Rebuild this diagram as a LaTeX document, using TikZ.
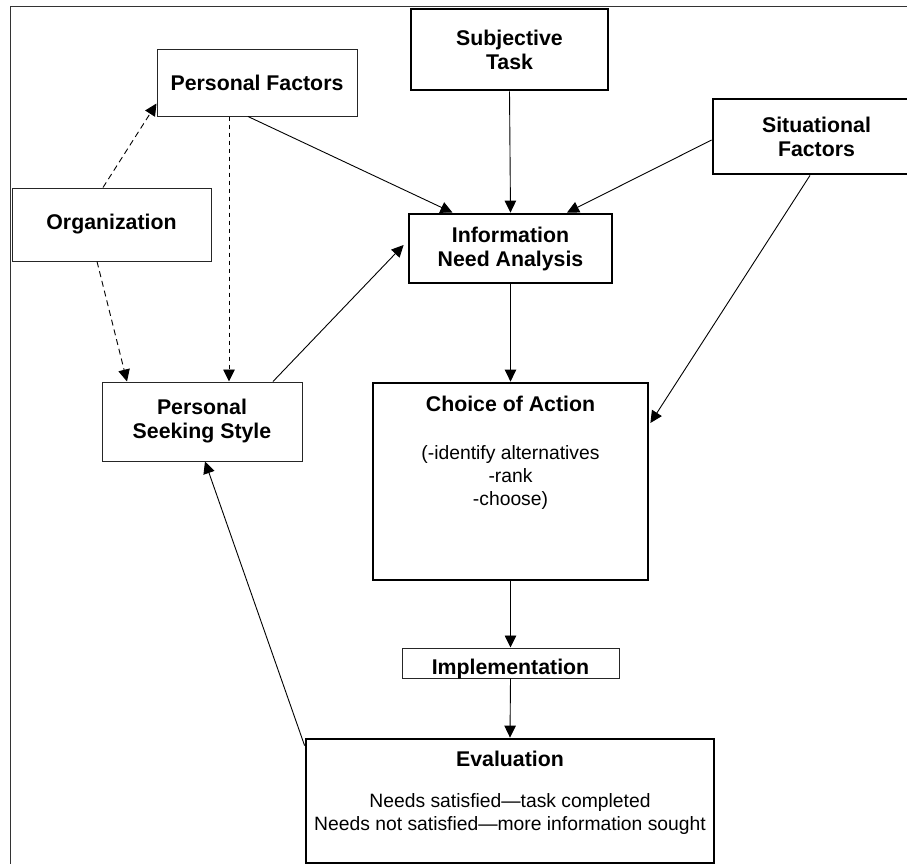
\documentclass[tikz,border=0pt]{standalone}
\usepackage{fontspec}
\setmainfont{Liberation Sans}
\usetikzlibrary{arrows.meta}
\begin{document}
\begin{tikzpicture}[x=1pt,y=-1pt,
  thinbox/.style={draw=black!85,line width=1pt,inner sep=0pt,minimum width=#1},
  thickbox/.style={draw,line width=2.8pt,inner sep=0pt,minimum width=#1},
  lbl/.style={font=\fontsize{21.3}{24}\selectfont\bfseries,align=center},
  body/.style={font=\fontsize{19.3}{23}\selectfont,align=center},
  conn/.style={line width=0.9pt,-{Triangle[length=12pt,width=11.5pt]}},
  dconn/.style={conn,dash pattern=on 6pt off 4pt},
  sconn/.style={conn,dash pattern=on 4.5pt off 3.5pt}]
\useasboundingbox (0,0) rectangle (907,863);
\fill[white] (0,0) rectangle (907,863);
% outer frame
\draw[line width=0.9pt,black!80] (10,870) |- (920,6);

% boxes
\node[thinbox=200,minimum height=67,lbl] (pf) at (257,82.5) {Personal Factors};
\node[thinbox=199,minimum height=73,lbl] (org) at (111.5,224.5) {Organization};
\node[thickbox=197,minimum height=81,lbl] (st) at (509.5,49.5) {Subjective\\Task};
\node[thickbox=207,minimum height=75,lbl] (sf) at (816.5,136.5) {Situational\\Factors};
\node[thickbox=203,minimum height=69,lbl] (ina) at (510.5,248.5) {Information\\Need Analysis};
\node[thinbox=200,minimum height=79,lbl] (pss) at (202,421.5) {Personal\\Seeking Style};
\node[thickbox=275,minimum height=197] (coa) at (510.5,481.5) {};
\node[lbl] (coatitle) at (510.5,404) {Choice of Action};
\node[body] (coabody) at (510.5,477) {(-identify alternatives\\-rank\\-choose)};
\node[thinbox=217,minimum height=30] (impl) at (510.5,663) {};
\node[lbl,anchor=base] (impltxt) at (510.5,674) {Implementation};
\node[thickbox=408,minimum height=124] (ev) at (510,801) {};
\node[lbl] (evtitle) at (510,759) {Evaluation};
\node[body] (evbody) at (510,814) {Needs satisfied---task completed\\Needs not satisfied---more information sought};

% influences
\draw[dconn] ([xshift=-8.5]org.north) -- ([yshift=13]pf.south west);
\draw[dconn] ([xshift=-14.5]org.south) -- ([xshift=-75]pss.north);
\draw[sconn] ([xshift=-28]pf.south) -- ([xshift=27]pss.north);
\draw[conn] ([xshift=-9]pf.south) -- ([xshift=-58]ina.north);
\draw[conn] ([xshift=71]pss.north) -- ([yshift=3.5,xshift=-4]ina.west);
\draw[conn] (st.south) -- (ina.north);
\draw[conn] ([yshift=-3.5]sf.west) -- ([xshift=56.5]ina.north);
\draw[conn] ([xshift=-6.5]sf.south) -- ([yshift=58.5,xshift=1]coa.east);

% process flow
\draw[conn] (ina.south) -- (coa.north);
\draw[conn] (coa.south) -- (impl.north);
\draw[conn] (impl.south) -- (ev.north);
\draw[conn] ([yshift=-8]ev.north west) -- ([xshift=3]pss.south);
\end{tikzpicture}
\end{document}
